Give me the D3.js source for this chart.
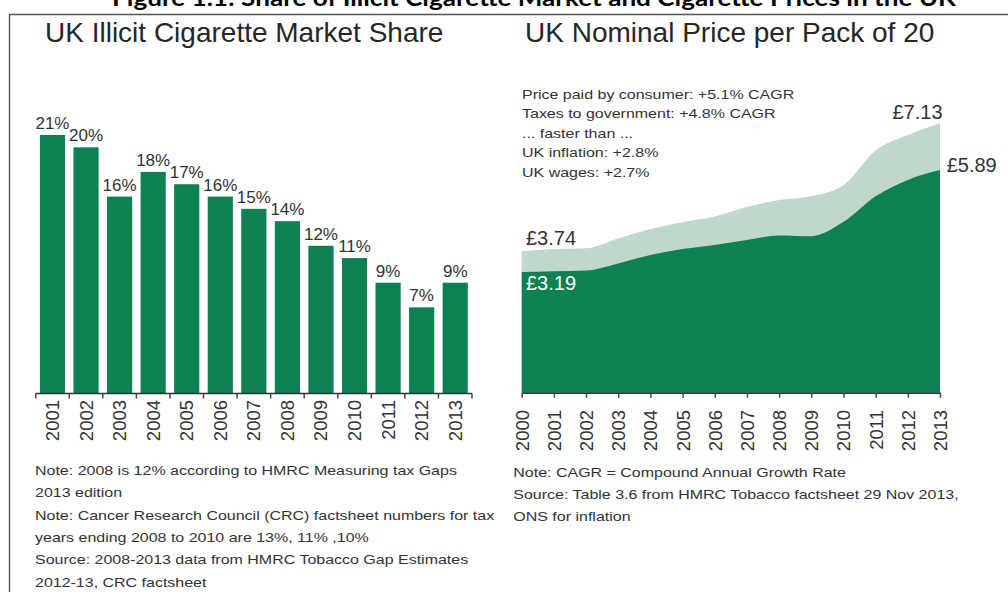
<!DOCTYPE html>
<html>
<head>
<meta charset="utf-8">
<script src="https://cdn.jsdelivr.net/npm/d3@7"></script>
<style>
  body { margin: 0; background: #fff; }
  text { font-family: "Liberation Sans", Arial, sans-serif; fill: #262626; }
</style>
</head>
<body>
<div id="vis"></div>
<script>
// values

// left: illicit market share
const SHARE_YEARS = ["2001", "2002", "2003", "2004", "2005", "2006", "2007",
                     "2008", "2009", "2010", "2011", "2012", "2013"];
const SHARE_VALUES = [21, 20, 16, 18, 17, 16, 15, 14, 12, 11, 9, 7, 9];

// right: price per pack of 20 (total paid by consumer, taxes)
const PRICE_YEARS = [2000, 2001, 2002, 2003, 2004, 2005, 2006,
                     2007, 2008, 2009, 2010, 2011, 2012, 2013];
const PRICE_TOTAL = [3.74, 3.80, 3.82, 4.08, 4.33, 4.51, 4.66,
                     4.91, 5.10, 5.20, 5.49, 6.41, 6.82, 7.13];
const PRICE_TAX = [3.19, 3.21, 3.23, 3.42, 3.64, 3.80, 3.91,
                   4.04, 4.16, 4.14, 4.52, 5.20, 5.63, 5.89];

const FIGURE_TITLE = "Figure 1.1: Share of Illicit Cigarette Market and Cigarette Prices in the UK";
const LEFT_TITLE = "UK Illicit Cigarette Market Share";
const RIGHT_TITLE = "UK Nominal Price per Pack of 20";

const PRICE_NOTES = ["Price paid by consumer: +5.1% CAGR",
                     "Taxes to government: +4.8% CAGR",
                     "... faster than ...",
                     "UK inflation: +2.8%",
                     "UK wages: +2.7%"];
const LEFT_NOTES = ["Note: 2008 is 12% according to HMRC Measuring tax Gaps",
                    "2013 edition",
                    "Note: Cancer Research Council (CRC) factsheet numbers for tax",
                    "years ending 2008 to 2010 are 13%, 11% ,10%",
                    "Source: 2008-2013 data from HMRC Tobacco Gap Estimates",
                    "2012-13, CRC factsheet"];
const RIGHT_NOTES = ["Note: CAGR = Compound Annual Growth Rate",
                     "Source: Table 3.6 from HMRC Tobacco factsheet 29 Nov 2013,",
                     "ONS for inflation"];

// frame
const FRAME_WIDTH = 1008;
const FRAME_HEIGHT = 592;
const GREEN = "#0d8152";
const LIGHT_GREEN = "#bed8c9";
const STRETCH = 1.23; // small print in the source is wider than plain Arial

const FRAME = d3.select("#vis")
                .append("svg")
                  .attr("width", FRAME_WIDTH)
                  .attr("height", FRAME_HEIGHT);

// top figure caption (cut off by the top edge)
FRAME.append("text")
     .attr("x", 534)
     .attr("y", 6)
     .attr("text-anchor", "middle")
     .attr("textLength", 844)
     .attr("lengthAdjust", "spacingAndGlyphs")
     .style("font-family", "Lato, 'Liberation Sans', sans-serif")
     .style("font-weight", "bold")
     .style("font-size", "23px")
     .style("fill", "#000")
     .text(FIGURE_TITLE);

// box round the figure
FRAME.append("path")
     .attr("d", "M9.5," + FRAME_HEIGHT + "V14.5H" + FRAME_WIDTH)
     .attr("fill", "none")
     .attr("stroke", "#555")
     .attr("stroke-width", 1.4);

FRAME.append("text")
     .attr("x", 45).attr("y", 42)
     .style("font-size", "28px")
     .text(LEFT_TITLE);

FRAME.append("text")
     .attr("x", 525).attr("y", 42)
     .style("font-size", "28px")
     .text(RIGHT_TITLE);

// ---------- left: bars ----------
const BASE1 = 393.5;

const X1 = d3.scaleBand()
             .domain(SHARE_YEARS)
             .range([35.7, 472])
             .paddingInner(0.25)
             .paddingOuter(0.125);
const Y1 = d3.scaleLinear()
             .domain([0, 21])
             .range([BASE1, 135]);

FRAME.selectAll(".bar")
     .data(SHARE_VALUES)
     .enter()
     .append("rect")
       .attr("class", "bar")
       .attr("x", (d, i) => X1(SHARE_YEARS[i]))
       .attr("y", (d) => Y1(d))
       .attr("width", X1.bandwidth())
       .attr("height", (d) => Y1(0) - Y1(d))
       .attr("fill", GREEN);

FRAME.selectAll(".barlabel")
     .data(SHARE_VALUES)
     .enter()
     .append("text")
       .attr("class", "barlabel")
       .attr("x", (d, i) => X1(SHARE_YEARS[i]) + X1.bandwidth() / 2)
       .attr("y", (d) => Y1(d) - 6)
       .attr("text-anchor", "middle")
       .style("font-size", "17px")
       .style("fill", "#333")
       .text((d) => d + "%");

// category axis with ticks between the bars
const AXIS1 = FRAME.append("g");
const edges = SHARE_YEARS.map((d) => X1(d) - X1.step() * X1.paddingInner() / 2)
                         .concat([X1.range()[1]]);
AXIS1.append("line")
     .attr("x1", X1.range()[0]).attr("x2", X1.range()[1])
     .attr("y1", BASE1).attr("y2", BASE1)
     .attr("stroke", "#333").attr("stroke-width", 1.5);
AXIS1.selectAll(".tick1")
     .data(edges)
     .enter()
     .append("line")
       .attr("x1", (d) => d).attr("x2", (d) => d)
       .attr("y1", BASE1).attr("y2", BASE1 + 5)
       .attr("stroke", "#444").attr("stroke-width", 1.5);
AXIS1.selectAll(".year1")
     .data(SHARE_YEARS)
     .enter()
     .append("text")
       .attr("transform", (d) => "translate(" + (X1(d) + X1.bandwidth() / 2) + "," + BASE1 + ") rotate(-90)")
       .attr("x", -6.5)
       .attr("dy", "0.35em")
       .attr("text-anchor", "end")
       .style("font-size", "18.5px")
       .style("fill", "#333")
       .text((d) => d);

// ---------- right: stacked price areas ----------
const BASE2 = 392.7;

const X2 = d3.scaleLinear()
             .domain([2000, 2013])
             .range([521.7, 940]);
const Y2 = d3.scaleLinear()
             .domain([0, 7.13])
             .range([BASE2, BASE2 - 7.13 * 37.8]);

const totalArea = d3.area()
                    .x((d, i) => X2(PRICE_YEARS[i]))
                    .y0(Y2(0))
                    .y1((d) => Y2(d))
                    .curve(d3.curveMonotoneX);

FRAME.append("path")
     .datum(PRICE_TOTAL)
     .attr("d", totalArea)
     .attr("fill", LIGHT_GREEN);
FRAME.append("path")
     .datum(PRICE_TAX)
     .attr("d", totalArea)
     .attr("fill", GREEN);

const AXIS2 = FRAME.append("g")
                   .attr("transform", "translate(0," + BASE2 + ")")
                   .call(d3.axisBottom(X2)
                           .tickValues(PRICE_YEARS)
                           .tickFormat(d3.format("d"))
                           .tickSize(5)
                           .tickSizeOuter(0));
AXIS2.select(".domain").attr("stroke", "#333").attr("stroke-width", 1.5);
AXIS2.selectAll(".tick line").attr("stroke", "#444").attr("stroke-width", 1.5);
AXIS2.selectAll(".tick text")
     .attr("transform", "rotate(-90)")
     .attr("x", -17.3)
     .attr("y", 0)
     .attr("dy", "0.35em")
     .attr("text-anchor", "end")
     .style("font-family", "'Liberation Sans', Arial, sans-serif")
     .style("font-size", "18.5px")
     .style("fill", "#333");

const fmtPrice = (v) => "£" + d3.format(".2f")(v);
const first = 0, last = PRICE_YEARS.length - 1;

FRAME.append("text")
     .attr("x", X2(PRICE_YEARS[last]) - 22.5)
     .attr("y", Y2(PRICE_TOTAL[last]) - 4)
     .attr("text-anchor", "middle")
     .style("font-size", "20px").style("fill", "#333")
     .text(fmtPrice(PRICE_TOTAL[last]));
FRAME.append("text")
     .attr("x", X2(PRICE_YEARS[last]) + 6.7)
     .attr("y", Y2(PRICE_TAX[last]) + 1.7)
     .style("font-size", "20px").style("fill", "#333")
     .text(fmtPrice(PRICE_TAX[last]));
FRAME.append("text")
     .attr("x", X2(PRICE_YEARS[first]) + 4.3)
     .attr("y", Y2(PRICE_TOTAL[first]) - 6.7)
     .style("font-size", "20px").style("fill", "#333")
     .text(fmtPrice(PRICE_TOTAL[first]));
FRAME.append("text")
     .attr("x", X2(PRICE_YEARS[first]) + 4.3)
     .attr("y", Y2(PRICE_TAX[first]) + 18.3)
     .style("font-size", "20px").style("fill", "#fff")
     .text(fmtPrice(PRICE_TAX[first]));

// ---------- small print ----------
function smallPrint(lines, x, y0, step) {
  FRAME.selectAll(null)
       .data(lines)
       .enter()
       .append("text")
         .attr("transform", (d, i) => "translate(" + x + "," + (y0 + i * step) + ") scale(" + STRETCH + ",1)")
         .style("font-size", "13px")
         .style("fill", "#333")
         .text((d) => d);
}

smallPrint(PRICE_NOTES, 522, 98.8, 19.5);
smallPrint(LEFT_NOTES, 35, 475, 22.3);
smallPrint(RIGHT_NOTES, 513.3, 477.3, 21.7);
</script>
</body>
</html>
